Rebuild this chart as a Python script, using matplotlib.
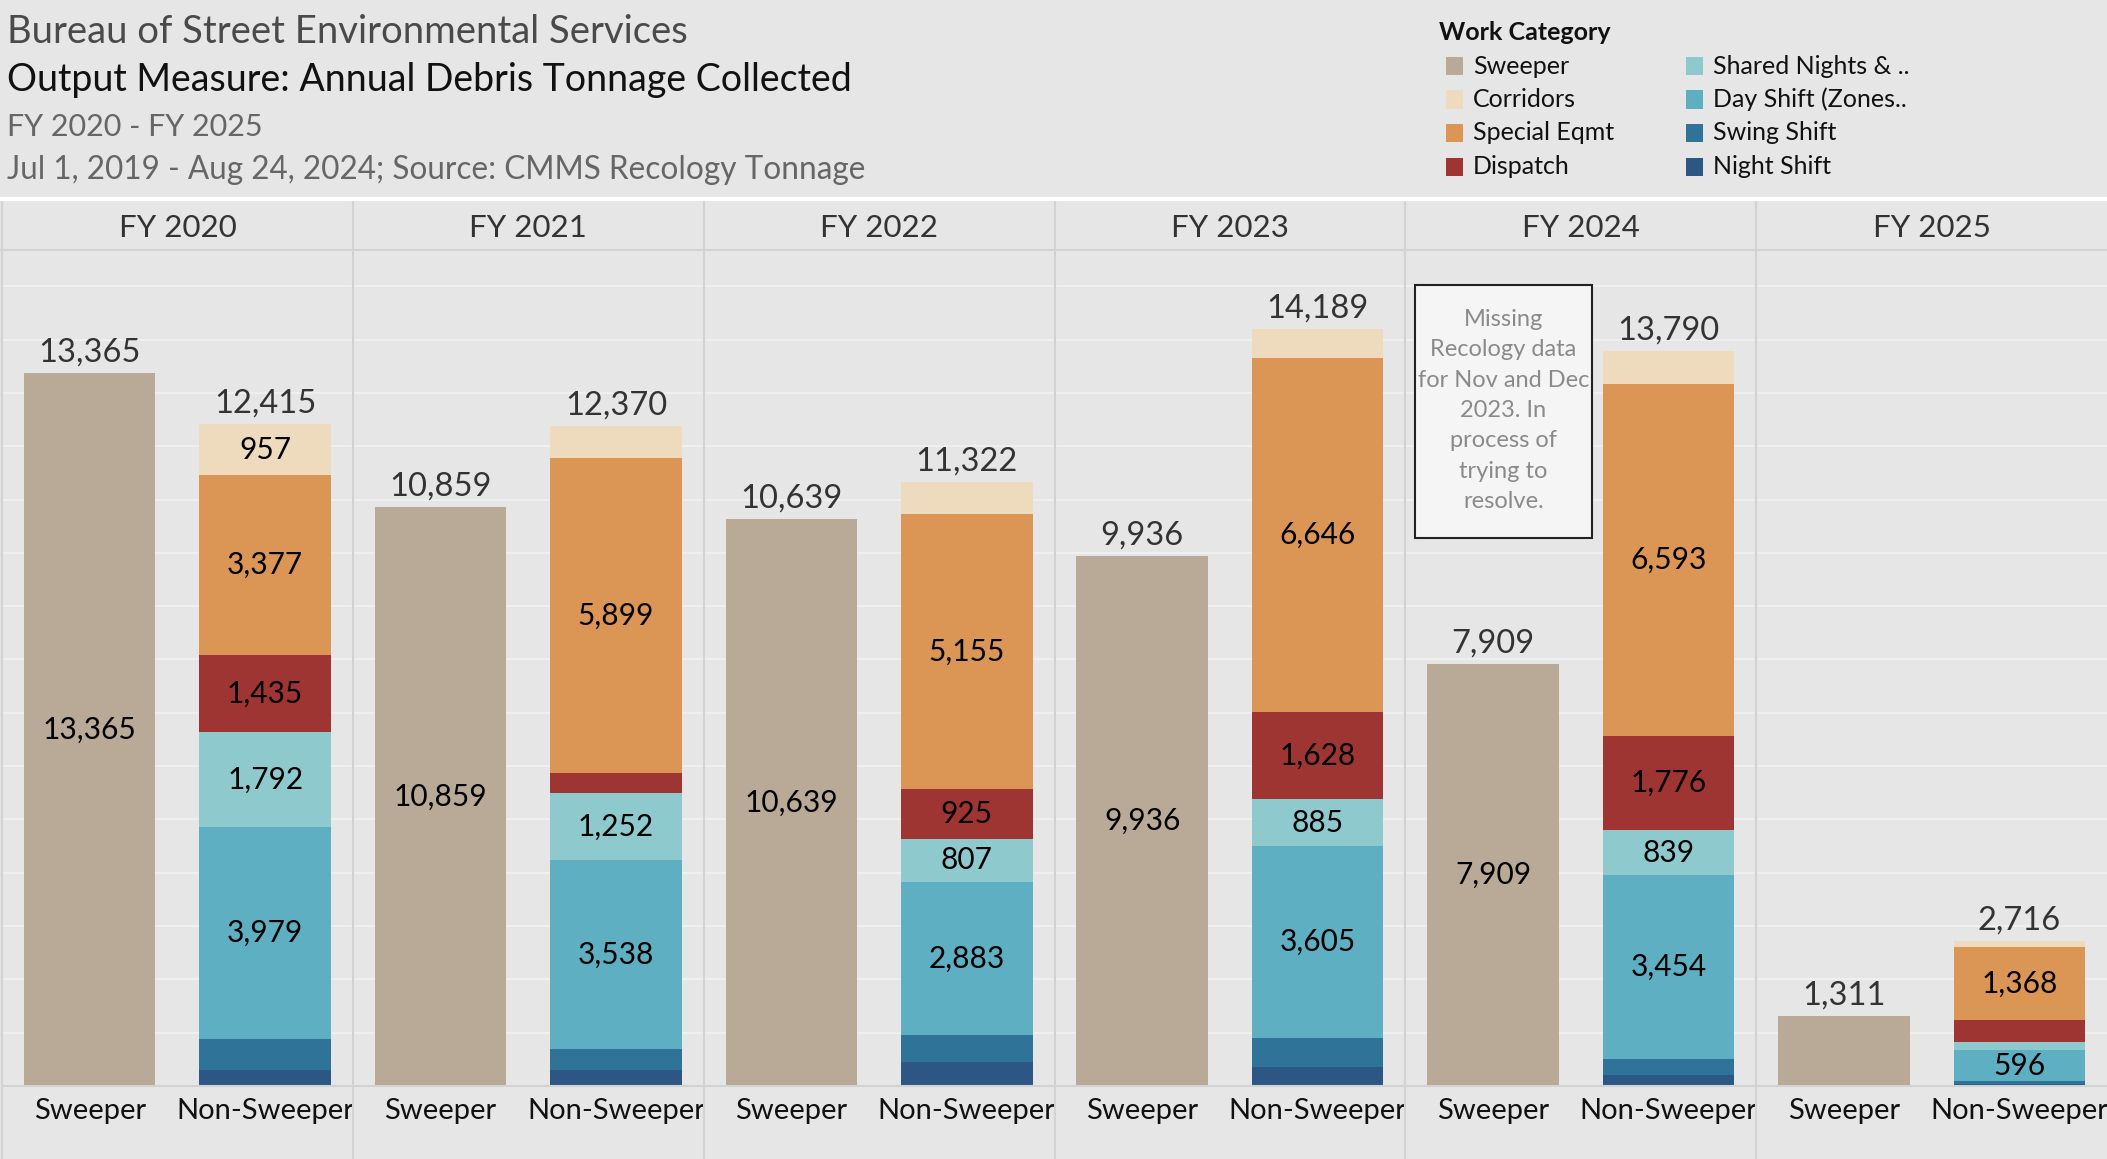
import matplotlib
matplotlib.use('Agg')
import matplotlib.pyplot as plt
from matplotlib.patches import Rectangle
from matplotlib.lines import Line2D

# ---- data (tons) ----
years = ['FY 2020', 'FY 2021', 'FY 2022', 'FY 2023', 'FY 2024', 'FY 2025']
groups = ['Sweeper', 'Non-Sweeper']

sweeper = [13365, 10859, 10639, 9936, 7909, 1311]
# non-sweeper stack, bottom to top
night_shift = [300, 300, 450, 350, 200, 40]
swing_shift = [575, 400, 500, 544, 300, 45]
day_shift = [3979, 3538, 2883, 3605, 3454, 596]
shared_nights = [1792, 1252, 807, 885, 839, 152]
dispatch = [1435, 381, 925, 1628, 1776, 405]
special_eqmt = [3377, 5899, 5155, 6646, 6593, 1368]
corridors = [957, 600, 602, 531, 628, 110]

legend_names = ['Sweeper', 'Corridors', 'Special Eqmt', 'Dispatch',
                'Shared Nights & ..', 'Day Shift (Zones..', 'Swing Shift', 'Night Shift']

colors = {
    'Sweeper': '#b9aa97',
    'Corridors': '#eedbbd',
    'Special Eqmt': '#db9656',
    'Dispatch': '#9e3532',
    'Shared Nights & ..': '#8ecacd',
    'Day Shift (Zones..': '#5eafc2',
    'Swing Shift': '#307398',
    'Night Shift': '#2c5784',
}

stack = [('Night Shift', night_shift), ('Swing Shift', swing_shift),
         ('Day Shift (Zones..', day_shift), ('Shared Nights & ..', shared_nights),
         ('Dispatch', dispatch), ('Special Eqmt', special_eqmt), ('Corridors', corridors)]

# label only segments big enough (tableau hides the rest)
min_label = {'Sweeper': 2000, 'Corridors': 900}

FONT = 'Lato'
plt.rcParams['font.family'] = [FONT, 'DejaVu Sans']

BG = '#e6e6e6'
SEP = '#d2d2d2'
W, H = 2107, 1159

fig = plt.figure(figsize=(W / 100, H / 100), dpi=100, facecolor=BG)

def fx(px):
    return px / W

def fy(py):
    return 1 - py / H

plot_top, plot_bot = 250, 1086
left0 = 2
pw = (W - left0) / 6

for i, yr in enumerate(years):
    ax = fig.add_axes([fx(left0 + i * pw), fy(plot_bot), fx(pw), (plot_bot - plot_top) / H])
    ax.set_facecolor(BG)
    ax.set_xlim(-0.5, 1.5)
    ax.set_ylim(0, 15680)
    ax.set_yticks(range(0, 15001, 1000))
    ax.yaxis.grid(True, color='#efefef', lw=1.6)
    ax.set_axisbelow(True)
    ax.tick_params(axis='y', left=False, labelleft=False)
    ax.set_xticks([0, 1])
    ax.set_xticklabels(groups, fontsize=21, color='#111111')
    ax.tick_params(axis='x', length=0, pad=9)
    for s in ['top', 'right', 'left']:
        ax.spines[s].set_visible(False)
    ax.spines['bottom'].set_color(SEP)
    ax.spines['bottom'].set_linewidth(1.5)

    # sweeper bar
    ax.bar(0, sweeper[i], width=0.75, color=colors['Sweeper'])
    if sweeper[i] >= min_label['Sweeper']:
        ax.text(0, sweeper[i] / 2, f'{sweeper[i]:,}', ha='center', va='center',
                fontsize=21.5, color='black')
    ax.annotate(f'{sweeper[i]:,}', (0, sweeper[i]), xytext=(0, 4), textcoords='offset points',
                ha='center', va='bottom', fontsize=23.5, color='#333333')

    # non-sweeper stack
    bottom = 0
    for name, vals in stack:
        v = vals[i]
        ax.bar(1, v, width=0.75, bottom=bottom, color=colors[name])
        if v >= min_label.get(name, 580):
            ax.text(1, bottom + v / 2, f'{v:,}', ha='center', va='center',
                    fontsize=21.5, color='black')
        bottom += v
    ax.annotate(f'{bottom:,}', (1, bottom), xytext=(0, 4), textcoords='offset points',
                ha='center', va='bottom', fontsize=23.5, color='#333333')

    # column header
    fig.text(fx(left0 + (i + 0.5) * pw), fy(228), yr, ha='center', va='center',
             fontsize=22.5, color='#333333')

    if yr == 'FY 2024':
        bx0, by0, bx1, by1 = 1415, 285, 1592, 538
        fig.patches.append(Rectangle((fx(bx0), fy(by1)), fx(bx1 - bx0), (by1 - by0) / H,
                                     transform=fig.transFigure, facecolor='#f5f5f5',
                                     edgecolor='#222222', lw=1.5, zorder=5))
        fig.text(fx((bx0 + bx1) / 2), fy((by0 + by1) / 2 - 1),
                 'Missing\nRecology data\nfor Nov and Dec\n2023. In\nprocess of\ntrying to\nresolve.',
                 ha='center', va='center', fontsize=17, color='#8a8a8a', linespacing=1.55, zorder=6)

# panel separators and header lines
for i in range(6):
    xs = fx(left0 + i * pw)
    fig.add_artist(Line2D([xs, xs], [0, fy(201)], transform=fig.transFigure, color=SEP, lw=1.5))
fig.add_artist(Line2D([0, 1], [fy(plot_top), fy(plot_top)], transform=fig.transFigure, color=SEP, lw=1.5))
fig.add_artist(Line2D([0, 1], [fy(199), fy(199)], transform=fig.transFigure, color='white', lw=3))

# titles
fig.text(fx(7), fy(43), 'Bureau of Street Environmental Services', fontsize=27.5,
         color='#4a4a4a', va='baseline')
fig.text(fx(7), fy(91), 'Output Measure: Annual Debris Tonnage Collected', fontsize=27,
         color='#111111', va='baseline')
fig.text(fx(7), fy(136), 'FY 2020 - FY 2025', fontsize=22, color='#666666', va='baseline')
fig.text(fx(7), fy(179), 'Jul 1, 2019 - Aug 24, 2024; Source: CMMS Recology Tonnage', fontsize=22.7,
         color='#666666', va='baseline')

# legend
fig.text(fx(1439), fy(33), 'Work Category', fontsize=18, fontweight='bold', color='#111111',
         va='center')
rows = [66, 99.5, 133, 166.6]
for k, name in enumerate(legend_names):
    cx = 1446 if k < 4 else 1686
    cy = rows[k % 4]
    fig.patches.append(Rectangle((fx(cx), fy(cy + 9)), fx(17), 18 / H, transform=fig.transFigure,
                                 facecolor=colors[name], edgecolor='none'))
    fig.text(fx(cx + 27), fy(cy), name, fontsize=18, color='#111111', va='center')

fig.savefig('out.png', dpi=100, facecolor=BG)
